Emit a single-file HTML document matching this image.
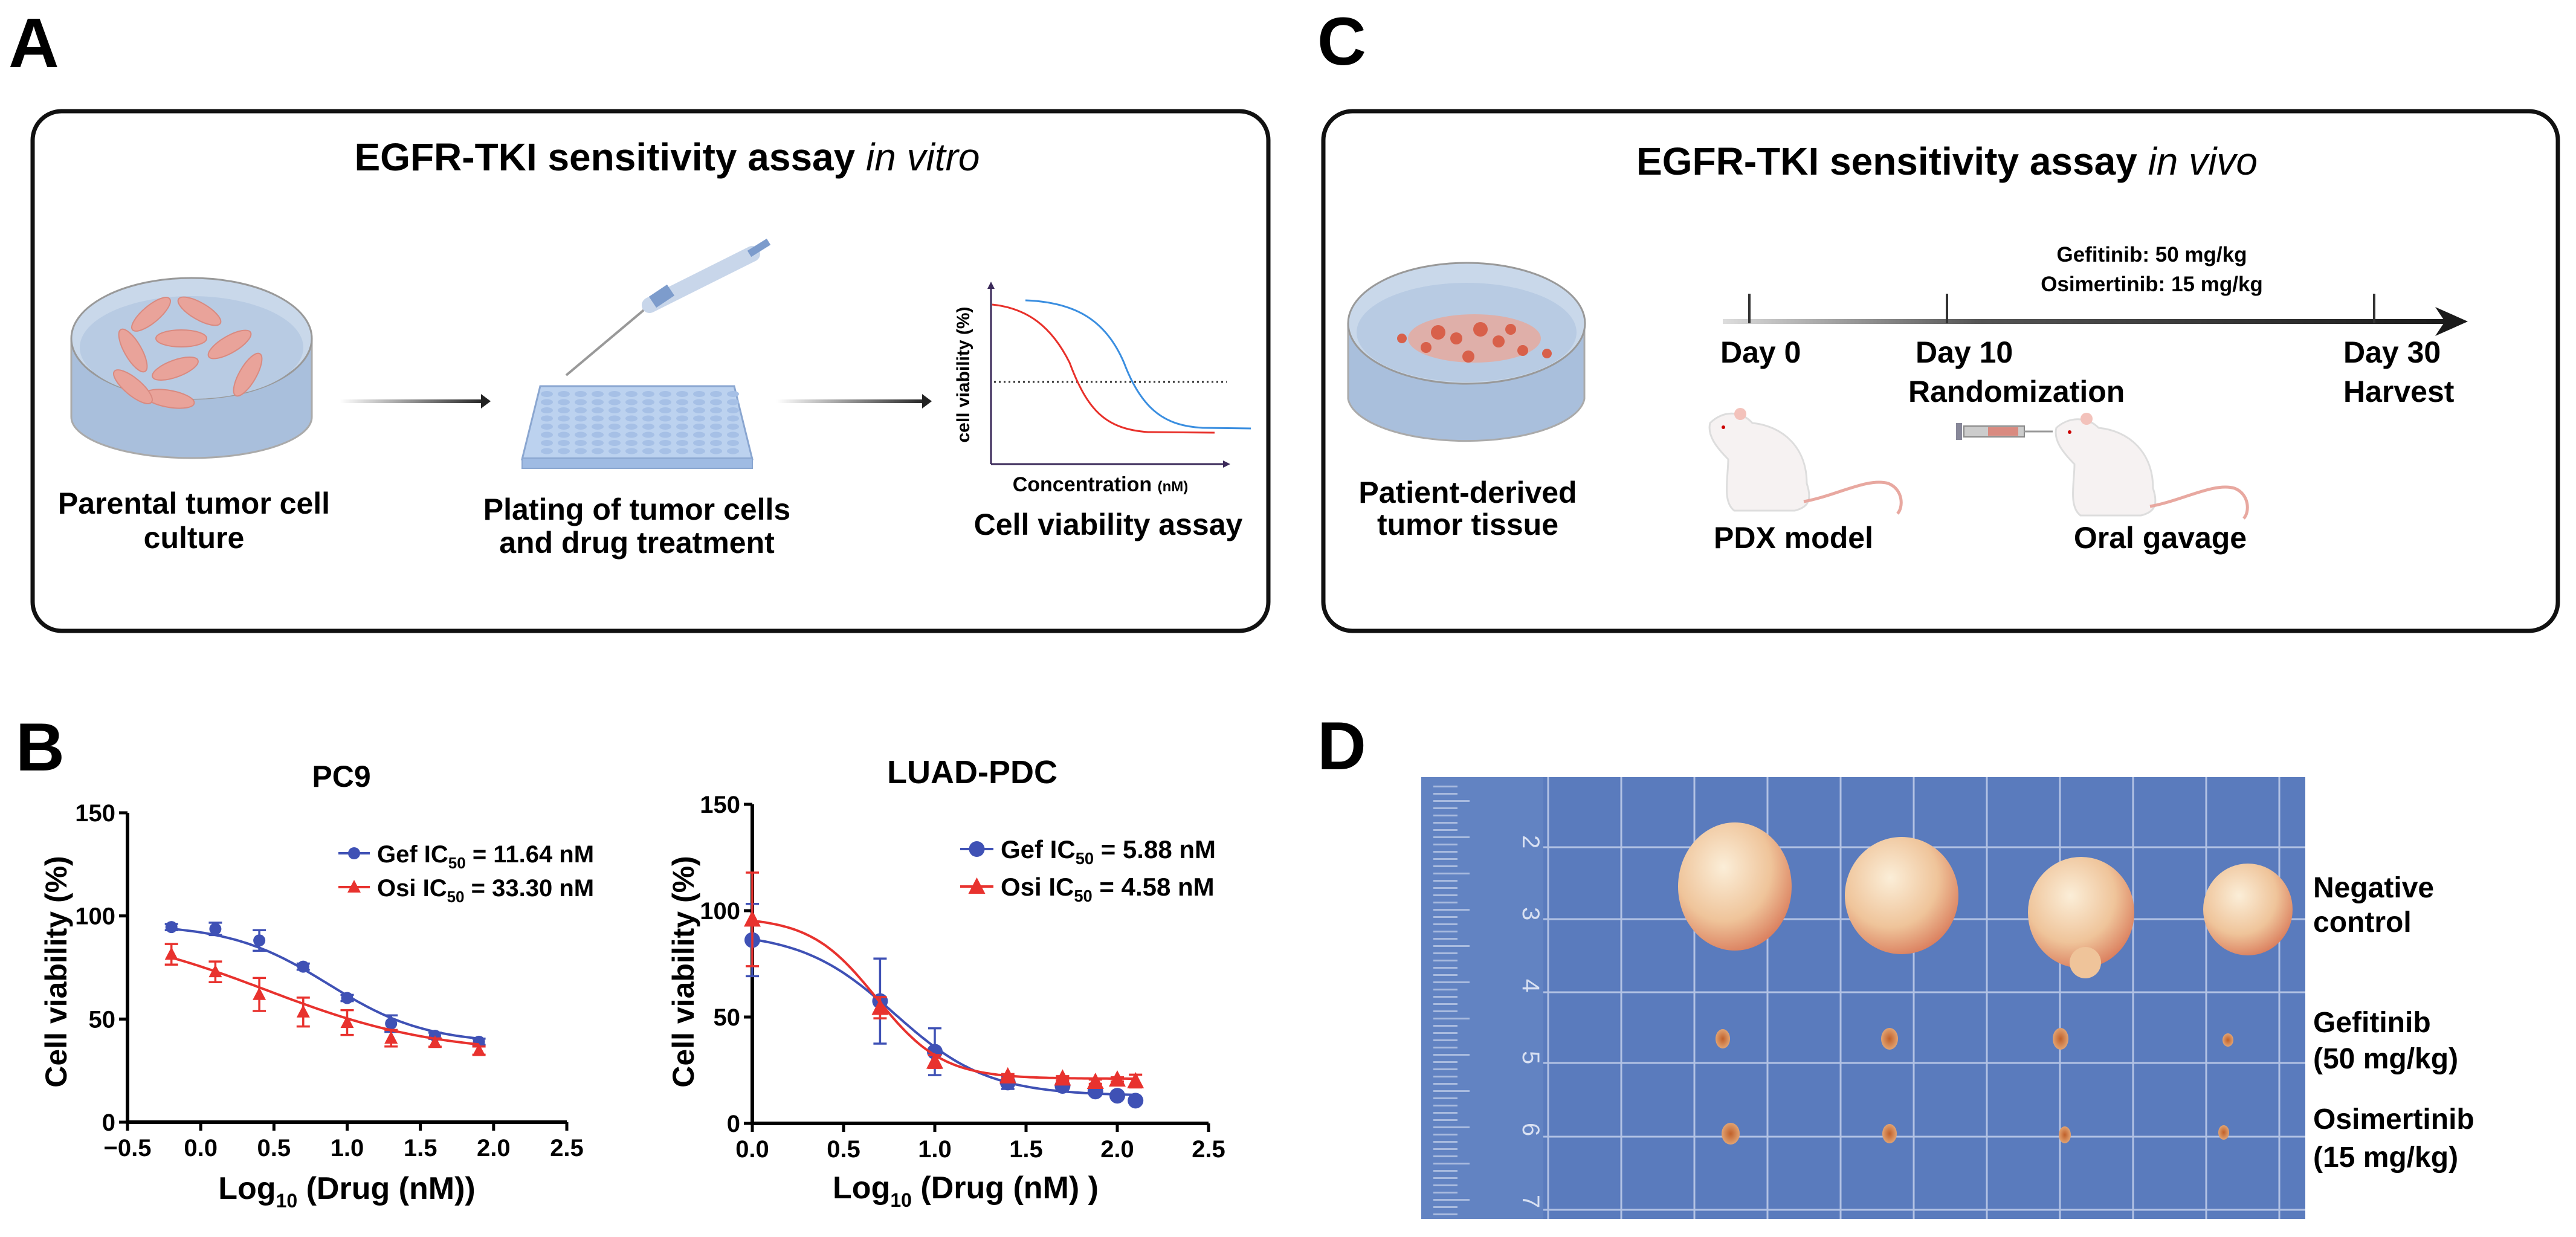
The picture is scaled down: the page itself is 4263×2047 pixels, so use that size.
<!DOCTYPE html>
<html><head><meta charset="utf-8"><style>
html,body{margin:0;padding:0;background:#fff;}
svg{display:block;font-family:"Liberation Sans",Arial,sans-serif;}
</style></head><body>
<svg id="fig" width="4263" height="2047" viewBox="0 0 4263 2047" xmlns="http://www.w3.org/2000/svg">
<defs>
<linearGradient id="arrowGrad1" gradientUnits="userSpaceOnUse" x1="562" y1="0" x2="805" y2="0"><stop offset="0" stop-color="#fff"/><stop offset="1" stop-color="#222"/></linearGradient>
<linearGradient id="arrowGrad2" gradientUnits="userSpaceOnUse" x1="1285" y1="0" x2="1535" y2="0"><stop offset="0" stop-color="#fff"/><stop offset="1" stop-color="#222"/></linearGradient>
<linearGradient id="tlGrad" gradientUnits="userSpaceOnUse" x1="2851" y1="0" x2="4060" y2="0"><stop offset="0" stop-color="#ddd"/><stop offset="0.35" stop-color="#555"/><stop offset="1" stop-color="#1a1a1a"/></linearGradient>
<radialGradient id="tumorGrad" cx="0.4" cy="0.35" r="0.7"><stop offset="0" stop-color="#fbeed8"/><stop offset="0.6" stop-color="#efc49a"/><stop offset="1" stop-color="#d97a5a"/></radialGradient>
<radialGradient id="smallGrad" cx="0.5" cy="0.5" r="0.6"><stop offset="0" stop-color="#c0602a"/><stop offset="1" stop-color="#e8b080"/></radialGradient>
</defs>

<text x="14" y="111" font-size="116" font-weight="bold">A</text>
<text x="2180" y="107" font-size="112" font-weight="bold">C</text>
<text x="26" y="1275" font-size="112" font-weight="bold">B</text>
<text x="2180" y="1273" font-size="112" font-weight="bold">D</text>

<g>
<rect x="54" y="184" width="2045" height="860" rx="48" fill="none" stroke="#111" stroke-width="7"/>
<text x="1104" y="282" font-size="64" font-weight="bold" text-anchor="middle">EGFR-TKI sensitivity assay <tspan font-style="italic" font-weight="normal">in vitro</tspan></text>
<g>
<path d="M118 560 L118 690 A199 68 0 0 0 516 690 L516 560" fill="#a9bfdc" stroke="#aaa" stroke-width="3"/>
<ellipse cx="317" cy="560" rx="199" ry="100" fill="#c9d8ea" stroke="#999" stroke-width="3"/>
<ellipse cx="317" cy="575" rx="185" ry="85" fill="#b8cbe3"/>
<g fill="#e9a39a" stroke="#d98a80" stroke-width="2">
<ellipse cx="250" cy="520" rx="40" ry="14" transform="rotate(-40 250 520)"/><ellipse cx="330" cy="515" rx="40" ry="14" transform="rotate(30 330 515)"/>
<ellipse cx="300" cy="560" rx="42" ry="14"/><ellipse cx="220" cy="580" rx="40" ry="14" transform="rotate(60 220 580)"/>
<ellipse cx="380" cy="570" rx="40" ry="14" transform="rotate(-30 380 570)"/><ellipse cx="290" cy="610" rx="40" ry="14" transform="rotate(-20 290 610)"/>
<ellipse cx="410" cy="620" rx="40" ry="14" transform="rotate(-60 410 620)"/><ellipse cx="280" cy="660" rx="42" ry="14" transform="rotate(10 280 660)"/>
<ellipse cx="220" cy="640" rx="40" ry="14" transform="rotate(40 220 640)"/>
</g></g>
<rect x="562" y="661" width="238" height="6" fill="url(#arrowGrad1)"/>
<path d="M796 652 L812 664 L796 676 Z" fill="#222"/>
<g>
<path d="M894 639 L1215 639 L1245 760 L864 760 Z" fill="#bcd2ef" stroke="#8aa6d0" stroke-width="3"/>
<rect x="864" y="758" width="381" height="17" fill="#9fbbe3" stroke="#8aa6d0" stroke-width="2"/>
<g id="wells" fill="#a6c0e6"></g>
</g>
<g>
<line x1="937" y1="621" x2="1075" y2="505" stroke="#999" stroke-width="4"/>
<line x1="1075" y1="505" x2="1245" y2="420" stroke="#c8d6ea" stroke-width="26" stroke-linecap="round"/>
<line x1="1080" y1="500" x2="1110" y2="480" stroke="#7d9ccc" stroke-width="22"/>
<line x1="1240" y1="420" x2="1272" y2="400" stroke="#7d9ccc" stroke-width="12"/>
</g>
<rect x="1285" y="661" width="245" height="6" fill="url(#arrowGrad2)"/>
<path d="M1526 652 L1542 664 L1526 676 Z" fill="#222"/>
<g>
<line x1="1640" y1="768" x2="1640" y2="470" stroke="#3b2a5a" stroke-width="3"/>
<path d="M1634 478 L1640 466 L1646 478 Z" fill="#3b2a5a"/>
<line x1="1640" y1="768" x2="2030" y2="768" stroke="#3b2a5a" stroke-width="3"/>
<path d="M2024 762 L2036 768 L2024 774 Z" fill="#3b2a5a"/>
<line x1="1645" y1="632" x2="2030" y2="632" stroke="#333" stroke-width="3" stroke-dasharray="3 5"/>
<path d="M1642 504 C1700 510 1740 540 1770 600 C1800 680 1830 710 1900 715 L2010 716" fill="none" stroke="#e8302a" stroke-width="3"/>
<path d="M1697 497 C1780 500 1830 530 1860 600 C1890 680 1930 705 1990 708 L2070 709" fill="none" stroke="#3a8ee0" stroke-width="3"/>
<text x="1604" y="620" font-size="30" font-weight="bold" text-anchor="middle" transform="rotate(-90 1604 620)">cell viability  (%)</text>
<text x="1821" y="813" font-size="34" font-weight="bold" text-anchor="middle">Concentration <tspan font-size="24">(nM)</tspan></text>
</g>
<text font-size="50" font-weight="bold" text-anchor="middle"><tspan x="321" y="850">Parental tumor cell</tspan><tspan x="321" y="907">culture</tspan></text>
<text font-size="50" font-weight="bold" text-anchor="middle"><tspan x="1054" y="860">Plating of tumor cells</tspan><tspan x="1054" y="915">and drug treatment</tspan></text>
<text x="1834" y="885" font-size="50" font-weight="bold" text-anchor="middle">Cell viability assay</text>
</g>

<g>
<rect x="2190" y="184" width="2043" height="860" rx="48" fill="none" stroke="#111" stroke-width="7"/>
<text x="3222" y="289" font-size="64" font-weight="bold" text-anchor="middle">EGFR-TKI sensitivity assay <tspan font-style="italic" font-weight="normal">in vivo</tspan></text>
<g>
<path d="M2231 535 L2231 660 A196 75 0 0 0 2622 660 L2622 535" fill="#a9bfdc" stroke="#aaa" stroke-width="3"/>
<ellipse cx="2427" cy="535" rx="196" ry="100" fill="#c9d8ea" stroke="#999" stroke-width="3"/>
<ellipse cx="2427" cy="550" rx="182" ry="82" fill="#b8cbe3"/>
<ellipse cx="2440" cy="560" rx="110" ry="40" fill="#e8a79a" opacity="0.8"/>
<g fill="#d8604a"><circle cx="2380" cy="550" r="12"/><circle cx="2410" cy="560" r="10"/><circle cx="2450" cy="545" r="12"/><circle cx="2480" cy="565" r="10"/><circle cx="2520" cy="580" r="9"/><circle cx="2360" cy="575" r="9"/><circle cx="2430" cy="590" r="10"/><circle cx="2500" cy="545" r="9"/><circle cx="2560" cy="585" r="8"/><circle cx="2320" cy="560" r="8"/></g>
</g>
<text font-size="50" font-weight="bold" text-anchor="middle"><tspan x="2429" y="832">Patient-derived</tspan><tspan x="2429" y="885">tumor tissue</tspan></text>
<g>
<rect x="2851" y="528" width="1209" height="8" fill="url(#tlGrad)"/>
<path d="M4030 508 L4084 532 L4030 556 L4046 532 Z" fill="#1a1a1a"/>
<line x1="2895" y1="486" x2="2895" y2="535" stroke="#333" stroke-width="4"/>
<line x1="3222" y1="486" x2="3222" y2="535" stroke="#333" stroke-width="4"/>
<line x1="3929" y1="486" x2="3929" y2="535" stroke="#333" stroke-width="4"/>
</g>
<text x="3561" y="433" font-size="35" font-weight="bold" text-anchor="middle">Gefitinib: 50 mg/kg</text>
<text x="3561" y="482" font-size="35" font-weight="bold" text-anchor="middle">Osimertinib: 15 mg/kg</text>
<text x="2847" y="600" font-size="50" font-weight="bold">Day 0</text>
<text x="3170" y="600" font-size="50" font-weight="bold">Day 10</text>
<text x="3878" y="600" font-size="50" font-weight="bold">Day 30</text>
<text x="3158" y="665" font-size="50" font-weight="bold">Randomization</text>
<text x="3878" y="665" font-size="50" font-weight="bold">Harvest</text>
<g>
<path d="M2830 700 C2850 680 2880 678 2900 700 C2950 705 2990 740 2990 800 C3000 830 2990 840 2970 845 L2870 845 C2850 830 2860 790 2860 760 C2840 740 2825 720 2830 700 Z" fill="#f6f2f2" stroke="#ddd" stroke-width="3"/>
<path d="M2985 830 C3040 820 3090 790 3125 800 C3150 810 3150 840 3140 850" fill="none" stroke="#e8a8a0" stroke-width="5"/>
<circle cx="2880" cy="685" r="10" fill="#f3c2bb"/><circle cx="2852" cy="707" r="3" fill="#c00"/>
</g>
<text x="2968" y="907" font-size="50" font-weight="bold" text-anchor="middle">PDX model</text>
<g>
<rect x="3250" y="705" width="100" height="18" fill="#ccc" stroke="#888" stroke-width="2"/>
<rect x="3290" y="707" width="50" height="14" fill="#d98a80"/>
<line x1="3350" y1="714" x2="3397" y2="714" stroke="#999" stroke-width="3"/>
<rect x="3237" y="700" width="10" height="28" fill="#889"/>
</g>
<g>
<path d="M3403 708 C3423 690 3453 688 3473 708 C3523 713 3563 748 3563 808 C3573 838 3563 848 3543 853 L3443 853 C3423 838 3433 798 3433 768 C3413 748 3398 728 3403 708 Z" fill="#f6f2f2" stroke="#ddd" stroke-width="3"/>
<path d="M3558 838 C3613 828 3663 798 3698 808 C3723 818 3723 848 3713 858" fill="none" stroke="#e8a8a0" stroke-width="5"/>
<circle cx="3453" cy="693" r="10" fill="#f3c2bb"/><circle cx="3425" cy="715" r="3" fill="#c00"/>
</g>
<text x="3575" y="907" font-size="50" font-weight="bold" text-anchor="middle">Oral gavage</text>
</g>

<g>
<rect x="2352" y="1286" width="1463" height="731" fill="#5a7bbd"/>
<rect x="2352" y="1286" width="202" height="731" fill="#6283c2"/>
<g id="grid" stroke="#c8d4ee" stroke-width="3" opacity="0.8"></g>
<g id="ruler" fill="#d9e1f2" font-size="40"></g>
<g>
<ellipse cx="2871" cy="1467" rx="94" ry="106" fill="url(#tumorGrad)"/>
<ellipse cx="3147" cy="1482" rx="94" ry="97" fill="url(#tumorGrad)"/>
<ellipse cx="3444" cy="1510" rx="88" ry="92" fill="url(#tumorGrad)"/>
<circle cx="3451" cy="1593" r="26" fill="#efc49a"/>
<ellipse cx="3720" cy="1505" rx="74" ry="76" fill="url(#tumorGrad)"/>
</g>
<g fill="url(#smallGrad)">
<ellipse cx="2851" cy="1719" rx="12" ry="16"/><ellipse cx="3127" cy="1719" rx="14" ry="18"/><ellipse cx="3410" cy="1719" rx="13" ry="18"/><ellipse cx="3687" cy="1721" rx="9" ry="11"/>
</g>
<g fill="url(#smallGrad)">
<ellipse cx="2864" cy="1876" rx="15" ry="18"/><ellipse cx="3127" cy="1876" rx="12" ry="16"/><ellipse cx="3417" cy="1878" rx="10" ry="14"/><ellipse cx="3680" cy="1874" rx="9" ry="12"/>
</g>
</g>
<text font-size="48" font-weight="bold"><tspan x="3828" y="1485">Negative</tspan><tspan x="3828" y="1542">control</tspan></text>
<text font-size="48" font-weight="bold"><tspan x="3828" y="1708">Gefitinib</tspan><tspan x="3828" y="1768">(50 mg/kg)</tspan></text>
<text font-size="48" font-weight="bold"><tspan x="3828" y="1868">Osimertinib</tspan><tspan x="3828" y="1931">(15 mg/kg)</tspan></text>

<g id="chartPC9"></g>
<g id="chartLUAD"></g>
</svg>
<script>
const pc9Doses = [-0.2, 0.1, 0.4, 0.7, 1.0, 1.3, 1.6, 1.9];
const pc9Gef = [94.6, 93.7, 88.1, 75.4, 60.2, 47.8, 41.9, 39.0];
const pc9GefErr = [1.5, 3, 5, 1.5, 1.5, 4, 1.5, 1.5];
const pc9Osi = [81.4, 72.9, 61.9, 53.4, 48.3, 40.7, 38.6, 34.7];
const pc9OsiErr = [5, 5, 8, 7, 6, 4, 2, 2];
const pc9GefFit = [38, 96, 0.87, 1.3];
const pc9OsiFit = [33, 95, 0.45, 0.75];
const pc9XTicks = [-0.5, 0.0, 0.5, 1.0, 1.5, 2.0, 2.5];
const pc9Legend = ["Gef  IC", "= 11.64 nM", "Osi  IC", "= 33.30 nM"];
const luadDoses = [0, 0.7, 1.0, 1.4, 1.7, 1.88, 2.0, 2.1];
const luadGef = [86.2, 57.5, 33.7, 19.2, 17.6, 15.0, 13.0, 10.7];
const luadGefErr = [17, 20, 11, 3, 1, 1, 1, 1];
const luadOsi = [95.9, 54.4, 29.1, 22.2, 21.2, 19.6, 20.7, 19.9];
const luadOsiErr = [22, 5, 3, 1, 1, 1, 1, 3];
const luadGefFit = [13, 90, 0.78, 1.7];
const luadOsiFit = [21, 97, 0.68, 2.4];
const luadXTicks = [0.0, 0.5, 1.0, 1.5, 2.0, 2.5];
const luadLegend = ["Gef  IC", "= 5.88 nM", "Osi  IC", "= 4.58 nM"];
const yTicks = [0, 50, 100, 150];

const NS = "http://www.w3.org/2000/svg";
function mk(parent, tag, attrs, text){
  const e = document.createElementNS(NS, tag);
  for (const k in attrs) e.setAttribute(k, attrs[k]);
  if (text !== undefined) e.textContent = text;
  parent.appendChild(e); return e;
}
function fourPL(p, x){ return p[0] + (p[1]-p[0])/(1+Math.pow(10,(x-p[2])*p[3])); }

function drawChart(g, cfg){
  const sx = v => cfg.x0 + (v - cfg.xmin)/(cfg.xmax - cfg.xmin)*(cfg.x1 - cfg.x0);
  const sy = v => cfg.y0 - v/150*(cfg.y0 - cfg.y1);
  const t = mk(g,'text',{x:cfg.titleX,y:cfg.titleY,'font-size':cfg.titleSize,'font-weight':'bold','text-anchor':'middle'},cfg.title);
  
  
  const ax = mk(g,'path',{d:`M${cfg.x0} ${cfg.y1} L${cfg.x0} ${cfg.y0} L${cfg.x1} ${cfg.y0}`,fill:'none',stroke:'#000','stroke-width':6});
  
  
  yTicks.forEach(v=>{
    mk(g,'line',{x1:cfg.x0-14,x2:cfg.x0,y1:sy(v),y2:sy(v),stroke:'#000','stroke-width':5});
    const l = mk(g,'text',{x:cfg.x0-20,y:sy(v)+14,'font-size':40,'font-weight':'bold','text-anchor':'end'},String(v));
    
    
  });
  cfg.xTicks.forEach(v=>{
    mk(g,'line',{x1:sx(v),x2:sx(v),y1:cfg.y0,y2:cfg.y0+14,stroke:'#000','stroke-width':5});
    const l = mk(g,'text',{x:sx(v),y:cfg.y0+56,'font-size':40,'font-weight':'bold','text-anchor':'middle'},(v<0?'\u22120.5':v.toFixed(1)));
    
    
  });
  const yl = mk(g,'text',{x:cfg.ylabX,y:cfg.ylabY,'font-size':50,'font-weight':'bold','text-anchor':'middle',transform:`rotate(-90 ${cfg.ylabX} ${cfg.ylabY})`},'Cell viability (%)');
  
  
  const xl = mk(g,'text',{x:cfg.xlabX,y:cfg.xlabY,'font-size':52,'font-weight':'bold','text-anchor':'middle'});
  
  
  mk(xl,'tspan',{},'Log');
  mk(xl,'tspan',{'font-size':32,dy:14},'10');
  mk(xl,'tspan',{dy:-14},cfg.xlabTail);

  const series = [
    {vals:cfg.gef, err:cfg.gefErr, fit:cfg.gefFit, color:'#3f51b5', shape:'circle', name:'gef'},
    {vals:cfg.osi, err:cfg.osiErr, fit:cfg.osiFit, color:'#e8322e', shape:'tri', name:'osi'}
  ];
  series.forEach(s=>{
    let d='';
    const a=cfg.doses[0], b=cfg.doses[cfg.doses.length-1];
    for(let i=0;i<=120;i++){ const x=a+(b-a)*i/120; d+=(i?'L':'M')+sx(x).toFixed(1)+' '+sy(fourPL(s.fit,x)).toFixed(1); }
    const c = mk(g,'path',{d:d,fill:'none',stroke:s.color,'stroke-width':4});
    
    
    cfg.doses.forEach((x,i)=>{
      const px=sx(x), py=sy(s.vals[i]), e=s.err[i];
      mk(g,'path',{d:`M${px} ${sy(s.vals[i]+e)} L${px} ${sy(s.vals[i]-e)} M${px-11} ${sy(s.vals[i]+e)} L${px+11} ${sy(s.vals[i]+e)} M${px-11} ${sy(s.vals[i]-e)} L${px+11} ${sy(s.vals[i]-e)}`,stroke:s.color,'stroke-width':3.5,fill:'none'});
      let m;
      if(s.shape==='circle') m = mk(g,'circle',{cx:px,cy:py,r:cfg.mr,fill:s.color});
      else m = mk(g,'path',{d:`M${px} ${py-cfg.mr-2} L${px+cfg.mr+1} ${py+cfg.mr-1} L${px-cfg.mr-1} ${py+cfg.mr-1} Z`,fill:s.color});
      
      
    });
  });
  [[cfg.legY1,'#3f51b5','circle',0],[cfg.legY2,'#e8322e','tri',2]].forEach(([y,col,sh,k])=>{
    mk(g,'line',{x1:cfg.legX0,x2:cfg.legX1,y1:y,y2:y,stroke:col,'stroke-width':4});
    const cx=(cfg.legX0+cfg.legX1)/2;
    if(sh==='circle') mk(g,'circle',{cx:cx,cy:y,r:cfg.mr,fill:col});
    else mk(g,'path',{d:`M${cx} ${y-cfg.mr-2} L${cx+cfg.mr+1} ${y+cfg.mr-1} L${cx-cfg.mr-1} ${y+cfg.mr-1} Z`,fill:col});
    const lt = mk(g,'text',{x:cfg.legX1+12,y:y+15,'font-size':cfg.legSize,'font-weight':'bold'});
    
    
    mk(lt,'tspan',{},cfg.legend[k]);
    mk(lt,'tspan',{'font-size':cfg.legSize*0.65,dy:10},'50');
    mk(lt,'tspan',{dy:-10},' '+cfg.legend[k+1]);
  });
}

drawChart(document.getElementById('chartPC9'),{
  x0:211,x1:938,y0:1857,y1:1345,xmin:-0.5,xmax:2.5,
  title:'PC9',titleX:565,titleY:1302,titleSize:50,
  xTicks:pc9XTicks,doses:pc9Doses,gef:pc9Gef,gefErr:pc9GefErr,osi:pc9Osi,osiErr:pc9OsiErr,
  gefFit:pc9GefFit,osiFit:pc9OsiFit,mr:10,
  ylabX:110,ylabY:1608,xlabX:574,xlabY:1984,xlabTail:' (Drug (nM))',
  legX0:560,legX1:612,legY1:1412,legY2:1468,legSize:40,legend:pc9Legend
});
drawChart(document.getElementById('chartLUAD'),{
  x0:1245,x1:2000,y0:1859,y1:1331,xmin:0,xmax:2.5,
  title:'LUAD-PDC',titleX:1609,titleY:1296,titleSize:54,
  xTicks:luadXTicks,doses:luadDoses,gef:luadGef,gefErr:luadGefErr,osi:luadOsi,osiErr:luadOsiErr,
  gefFit:luadGefFit,osiFit:luadOsiFit,mr:13,
  ylabX:1148,ylabY:1608,xlabX:1598,xlabY:1983,xlabTail:' (Drug (nM) )',
  legX0:1589,legX1:1644,legY1:1405,legY2:1467,legSize:42,legend:luadLegend
});

const wells=document.getElementById('wells');
for(let r=0;r<8;r++)for(let c=0;c<12;c++){
  mk(wells,'ellipse',{cx:905+c*28, cy:652+r*13.5, rx:10, ry:5});
}
const grid=document.getElementById('grid');
for(let i=0;i<11;i++) mk(grid,'line',{x1:2562+i*121,x2:2562+i*121,y1:1286,y2:2017});
[1402,1521,1642,1759,1881,2002].forEach(y=>mk(grid,'line',{x1:2554,x2:3815,y1:y,y2:y}));
const ruler=document.getElementById('ruler');
for(let y=1300;y<2010;y+=12) mk(ruler,'rect',{x:2372,y:y,width:(y%60<12?60:40),height:3,opacity:0.6});
['2','3','4','5','6','7'].forEach((n,i)=>mk(ruler,'text',{x:2520,y:1382+i*119,transform:`rotate(90 2520 ${1382+i*119})`},n));
</script>
</body></html>
